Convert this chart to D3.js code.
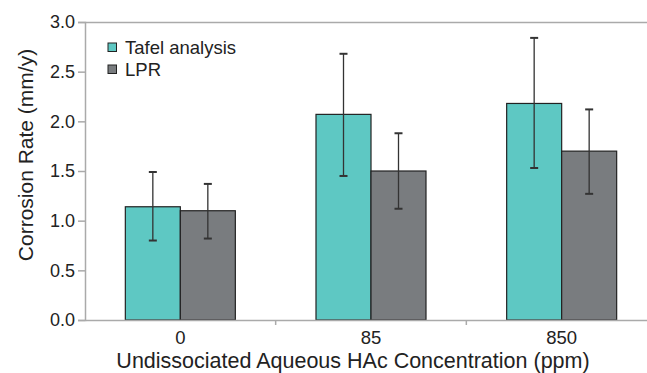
<!DOCTYPE html>
<html>
<head>
<meta charset="utf-8">
<script src="https://cdn.jsdelivr.net/npm/d3@7"></script>
<style>
  body { margin: 0; background: #fff; }
  svg text { font-family: "Liberation Sans", Arial, sans-serif; fill: #222; }
</style>
</head>
<body>
<svg id="chart" width="647" height="373"></svg>
<script>
// data
var categories = ["0", "85", "850"];
var seriesNames = ["Tafel analysis", "LPR"];
var tafelValues = [1.14, 2.07, 2.18];
var tafelLow = [0.80, 1.45, 1.53];
var tafelHigh = [1.49, 2.68, 2.84];
var lprValues = [1.10, 1.50, 1.70];
var lprLow = [0.82, 1.12, 1.27];
var lprHigh = [1.37, 1.88, 2.12];
var yTicks = [0, 0.5, 1.0, 1.5, 2.0, 2.5, 3.0];

var colors = ["#5ec8c3", "#797c7f"];

var svg = d3.select("#chart");
var margin = { left: 85, top: 22, right: -10, bottom: 53 };
var width = 647 - margin.left - margin.right;
var height = 373 - margin.top - margin.bottom;

var g = svg.append("g").attr("transform", "translate(" + margin.left + "," + margin.top + ")");

var x = d3.scaleBand().domain(categories).range([0, width]).padding(0);
var x1 = d3.scaleBand().domain(seriesNames).range([x.bandwidth() / 2 - 55, x.bandwidth() / 2 + 55]);
var y = d3.scaleLinear().domain([0, 3]).range([height, 0]);

// rows built from the arrays
var rows = categories.map(function(c, i) {
    return [
        { cat: c, s: seriesNames[0], v: tafelValues[i], lo: tafelLow[i], hi: tafelHigh[i] },
        { cat: c, s: seriesNames[1], v: lprValues[i], lo: lprLow[i], hi: lprHigh[i] }
    ];
});

// top frame line
g.append("line")
    .attr("x1", 0).attr("x2", width).attr("y1", 0.5).attr("y2", 0.5)
    .attr("stroke", "#aaa").attr("stroke-width", 1.5);

// bars
var groups = g.selectAll(".grp").data(rows).enter().append("g")
    .attr("transform", function(d, i) { return "translate(" + x(categories[i]) + ",0)"; });

groups.selectAll("rect").data(function(d) { return d; }).enter().append("rect")
    .attr("x", function(d) { return x1(d.s); })
    .attr("y", function(d) { return y(d.v); })
    .attr("width", x1.bandwidth())
    .attr("height", function(d) { return height - y(d.v); })
    .attr("fill", function(d, i) { return colors[i]; })
    .attr("stroke", "#222")
    .attr("stroke-width", 1.2);

// error bars
var eb = groups.selectAll(".err").data(function(d) { return d; }).enter().append("g")
    .attr("stroke", "#333").attr("stroke-width", 1.3);
eb.append("line")
    .attr("x1", function(d) { return x1(d.s) + x1.bandwidth() / 2; })
    .attr("x2", function(d) { return x1(d.s) + x1.bandwidth() / 2; })
    .attr("y1", function(d) { return y(d.hi); })
    .attr("y2", function(d) { return y(d.lo); });
eb.selectAll(".cap").data(function(d) { return [d.hi, d.lo].map(function(v) { return { s: d.s, v: v }; }); })
    .enter().append("line")
    .attr("x1", function(d) { return x1(d.s) + x1.bandwidth() / 2 - 4; })
    .attr("x2", function(d) { return x1(d.s) + x1.bandwidth() / 2 + 4; })
    .attr("y1", function(d) { return y(d.v); })
    .attr("y2", function(d) { return y(d.v); })
    .attr("stroke-width", 2);

// y axis
var yAxis = g.append("g")
    .call(d3.axisLeft(y).tickValues(yTicks).tickFormat(d3.format(".1f")).tickSize(7).tickPadding(3));
yAxis.select(".domain").attr("stroke", "#aaa").attr("stroke-width", 1.5);
yAxis.selectAll(".tick line").attr("stroke", "#aaa").attr("stroke-width", 1.5);
yAxis.selectAll("text").style("font-size", "18px").attr("fill", "#222");

// x axis
var xAxis = g.append("g").attr("transform", "translate(0," + height + ")")
    .call(d3.axisBottom(x).tickSize(0).tickPadding(11));
xAxis.select(".domain").attr("stroke", "#aaa").attr("stroke-width", 1.5);
xAxis.selectAll("text").style("font-size", "18.5px").attr("fill", "#222");
// band boundary ticks
xAxis.selectAll(".bt").data(categories.slice(1)).enter().append("line")
    .attr("x1", function(d) { return x(d); }).attr("x2", function(d) { return x(d); })
    .attr("y1", 0).attr("y2", 5)
    .attr("stroke", "#aaa").attr("stroke-width", 1.5);

// axis titles
svg.append("text")
    .attr("transform", "translate(33,155) rotate(-90)")
    .attr("text-anchor", "middle")
    .style("font-size", "21px")
    .text("Corrosion Rate (mm/y)");

svg.append("text")
    .attr("x", 353).attr("y", 368)
    .attr("text-anchor", "middle")
    .style("font-size", "21.5px")
    .text("Undissociated Aqueous HAc Concentration (ppm)");

// legend
var legend = svg.append("g").attr("transform", "translate(108,43)");
var li = legend.selectAll("g").data(seriesNames).enter().append("g")
    .attr("transform", function(d, i) { return "translate(0," + i * 22 + ")"; });
li.append("rect").attr("width", 8.5).attr("height", 8.5)
    .attr("fill", function(d, i) { return colors[i]; })
    .attr("stroke", "#222").attr("stroke-width", 1);
li.append("text").attr("x", 17).attr("y", 11)
    .style("font-size", "18.5px")
    .text(function(d) { return d; });
</script>
</body>
</html>
